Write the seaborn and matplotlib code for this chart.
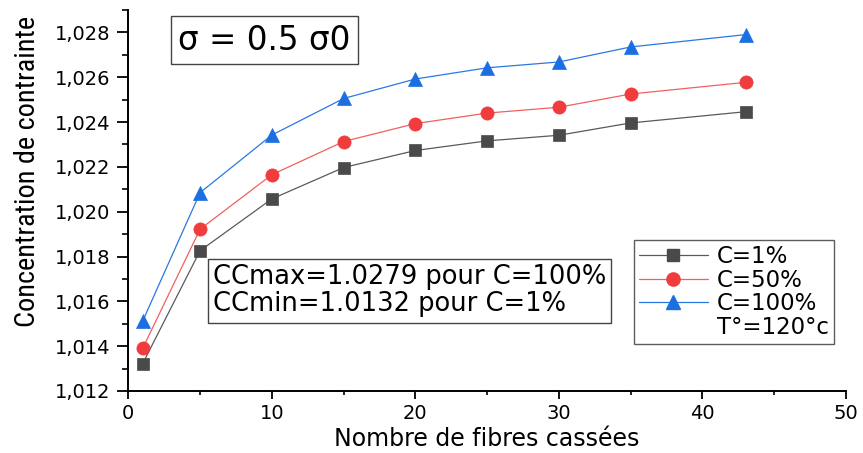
import numpy as np
import pandas as pd
import matplotlib
matplotlib.use("Agg")
import matplotlib.pyplot as plt
from matplotlib import font_manager
from matplotlib.lines import Line2D
from matplotlib.ticker import MultipleLocator, FuncFormatter
import seaborn as sns

# ---- data ----
n_fibres = [1, 5, 10, 15, 20, 25, 30, 35, 43]
cc_1 = [1.01322, 1.01826, 1.02057, 1.02197, 1.02273, 1.02316, 1.02341, 1.02396, 1.02446]
cc_50 = [1.01390, 1.01922, 1.02165, 1.02313, 1.02393, 1.02440, 1.02466, 1.02525, 1.02577]
cc_100 = [1.01512, 1.02085, 1.02342, 1.02505, 1.02592, 1.02642, 1.02668, 1.02735, 1.02790]
labels = ["C=1%", "C=50%", "C=100%"]
extra_label = "T°=120°c"
title_text = "σ = 0.5 σ0"
note_text = "CCmax=1.0279 pour C=100%\nCCmin=1.0132 pour C=1%"
xlabel = "Nombre de fibres cassées"
ylabel = "Concentration de contrainte"

sns.set_style("ticks")
plt.rcParams["font.family"] = ["DejaVu Sans"]
plt.rcParams["text.color"] = "black"
plt.rcParams["axes.labelcolor"] = "black"
plt.rcParams["xtick.color"] = "black"
plt.rcParams["ytick.color"] = "black"

# look for a condensed face for the y label
narrow = None
narrow_stretch = "normal"
cands = []
for f in font_manager.fontManager.ttflist:
    nm = f.name
    st = f.stretch
    if ("Narrow" in nm or "Condensed" in nm or st in ("condensed", "semi-condensed", "extra-condensed")) \
            and f.style == "normal":
        cands.append((nm, st))
pref = ["Liberation Sans Narrow", "Roboto Condensed", "DejaVu Sans Condensed", "Open Sans Condensed"]
for p in pref:
    for nm, st in cands:
        if nm == p:
            narrow = nm
            break
    if narrow:
        break
if narrow is None:
    for nm, st in cands:
        if nm in ("DejaVu Sans", "Roboto", "Open Sans", "Noto Sans", "Liberation Sans"):
            narrow = nm
            narrow_stretch = st
            break

fig = plt.figure(figsize=(8.63, 4.53), dpi=100)
ax = fig.add_axes([0.1487, 0.1369, 0.8316, 0.8411])

series = [
    (cc_1, "s", "#4a4a4a", "#5a5a5a", 8.5),
    (cc_50, "o", "#f03c3c", "#f06060", 9.5),
    (cc_100, "^", "#1b6fe0", "#2a78e4", 10.5),
]
handles = []
for (vals, mk, mc, lc, ms), lab in zip(series, labels):
    df = pd.DataFrame({"x": n_fibres, "y": vals})
    sns.lineplot(data=df, x="x", y="y", ax=ax, color=lc, linewidth=0.9,
                 marker=mk, markersize=ms, markerfacecolor=mc,
                 markeredgecolor=mc, markeredgewidth=0.5, legend=False)
    handles.append(Line2D([], [], color=lc, linewidth=0.9, marker=mk,
                          markersize=ms, markerfacecolor=mc, markeredgecolor=mc))
handles.append(Line2D([], [], color="none", marker=None))

ax.set_xlim(0, 50)
ax.set_ylim(1.012, 1.029)
ax.xaxis.set_major_locator(MultipleLocator(10))
ax.xaxis.set_minor_locator(MultipleLocator(5))
ax.yaxis.set_major_locator(MultipleLocator(0.002))
ax.yaxis.set_minor_locator(MultipleLocator(0.001))
ax.yaxis.set_major_formatter(FuncFormatter(lambda v, p: f"{v:.3f}".replace(".", ",")))
ax.tick_params(axis="y", which="major", direction="out", length=8, width=1.3, labelsize=14, pad=5)
ax.tick_params(axis="y", which="minor", direction="out", length=4, width=1.2)
ax.tick_params(axis="x", which="major", direction="out", length=5.5, width=1.3, labelsize=14, pad=4)
ax.tick_params(axis="x", which="minor", direction="out", length=3, width=1.2)
for s in ["top", "right"]:
    ax.spines[s].set_visible(False)
for s in ["left", "bottom"]:
    ax.spines[s].set_linewidth(1.4)
    ax.spines[s].set_color("black")

ax.set_xlabel(xlabel, fontsize=17, labelpad=3)
if narrow:
    ax.set_ylabel(ylabel, fontsize=20.3, family=narrow, fontstretch=narrow_stretch)
else:
    ax.set_ylabel(ylabel, fontsize=15.4)
ax.yaxis.set_label_coords(-0.122, 0.577)

leg = ax.legend(handles, labels + [extra_label], loc="upper right",
                bbox_to_anchor=(0.983, 0.396), borderaxespad=0, fontsize=16.5,
                frameon=True, fancybox=False, handlelength=3.0, handletextpad=0.4,
                labelspacing=0.02, borderpad=0.22)
leg.get_frame().set_edgecolor("#333333")
leg.get_frame().set_linewidth(1.0)

ax.text(0.190, 0.921, title_text, transform=ax.transAxes, ha="center", va="center",
        fontsize=23.5, bbox=dict(boxstyle="square,pad=0.22", facecolor="white",
                                 edgecolor="#444444", linewidth=1.0))
ax.text(0.392, 0.2625, note_text, transform=ax.transAxes, ha="center", va="center",
        multialignment="left", fontsize=18.5, linespacing=1.05,
        bbox=dict(boxstyle="square,pad=0.2", facecolor="white",
                  edgecolor="#444444", linewidth=1.0))

fig.savefig("out.png", dpi=100)
